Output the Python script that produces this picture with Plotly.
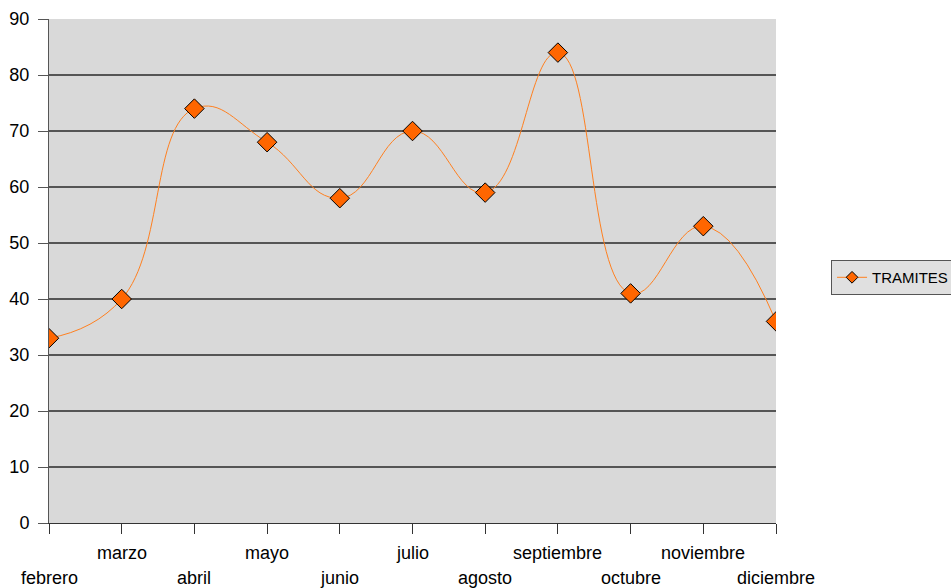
import plotly.graph_objects as go

months = ["febrero", "marzo", "abril", "mayo", "junio", "julio", "agosto",
          "septiembre", "octubre", "noviembre", "diciembre"]
tramites = [33, 40, 74, 68, 58, 70, 59, 84, 41, 53, 36]
y_ticks = [0, 10, 20, 30, 40, 50, 60, 70, 80, 90]

idx = list(range(len(months)))
ORANGE_LINE = "#FF8020"
ORANGE_FILL = "#FF6600"

fig = go.Figure()
fig.add_trace(go.Scatter(
    x=idx, y=tramites, name="TRAMITES", mode="lines+markers", showlegend=False,
    line=dict(color=ORANGE_LINE, width=1, shape="spline", smoothing=1.3),
    marker=dict(symbol="diamond", size=15, color=ORANGE_FILL,
                line=dict(color="#000000", width=1)),
))
# legend entry (smaller symbol like the original legend key)
fig.add_trace(go.Scatter(
    x=[None], y=[None], name="TRAMITES", mode="lines+markers",
    line=dict(color=ORANGE_LINE, width=1),
    marker=dict(symbol="diamond", size=9, color=ORANGE_FILL,
                line=dict(color="#000000", width=1)),
))

for i, m in enumerate(months):
    fig.add_annotation(x=i, y=0, xref="x", yref="y", text=m, showarrow=False,
                       yanchor="middle", xanchor="center",
                       yshift=-30 if i % 2 == 1 else -55,
                       font=dict(family="Liberation Sans, Arial", size=18, color="#000"))

fig.update_layout(
    width=951, height=588,
    margin=dict(l=49, r=175, t=19, b=65, autoexpand=False),
    paper_bgcolor="white", plot_bgcolor="#d9d9d9",
    font=dict(family="Liberation Sans, Arial", size=16, color="#000"),
    showlegend=True,
    legend=dict(x=1.0757, y=0.487, xanchor="left", yanchor="middle",
                bgcolor="#e0e0e0", bordercolor="#555", borderwidth=1,
                font=dict(size=15)),
)
fig.update_xaxes(range=[0, len(months) - 1], tickmode="array", tickvals=idx,
                 ticktext=[""] * len(months), ticks="outside", ticklen=10,
                 tickcolor="#333", showgrid=False, zeroline=False, automargin=False,
                 showline=True, linecolor="#333", linewidth=1)
fig.update_yaxes(range=[0, 90], tickvals=y_ticks, ticks="outside", ticklen=10,
                 tickcolor="#555", showgrid=True, gridcolor="#555", gridwidth=1.5,
                 zeroline=False, showline=True, linecolor="#555", linewidth=1,
                 automargin=False, ticklabelstandoff=5, tickfont=dict(size=18))

fig.write_html(
    "out.html",
    config={"displayModeBar": False},
    post_script="document.body.style.margin='0';document.body.style.overflow='hidden';",
)
